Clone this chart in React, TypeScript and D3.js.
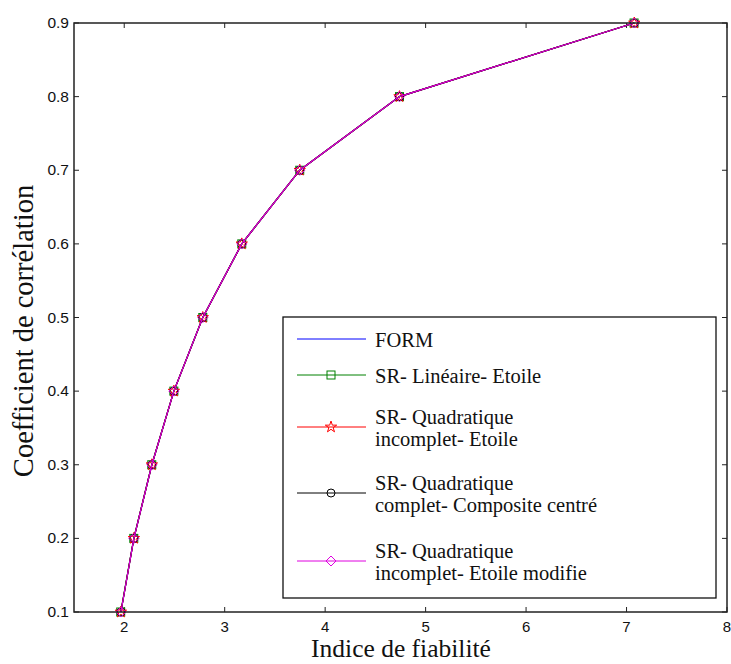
import React from "react";
import * as d3 from "d3";

const corr = [0.1, 0.2, 0.3, 0.4, 0.5, 0.6, 0.7, 0.8, 0.9];
const betaFORM = [1.967, 2.096, 2.275, 2.494, 2.782, 3.17, 3.747, 4.74, 7.077];
const betaLin = [1.965, 2.095, 2.274, 2.494, 2.782, 3.17, 3.747, 4.74, 7.075];
const betaQuadInc = [1.967, 2.096, 2.275, 2.494, 2.782, 3.17, 3.747, 4.74, 7.077];
const betaQuadComp = [1.967, 2.096, 2.275, 2.494, 2.782, 3.17, 3.747, 4.74, 7.077];
const betaQuadMod = [1.967, 2.096, 2.275, 2.494, 2.782, 3.17, 3.747, 4.74, 7.077];
const xTicks = [2, 3, 4, 5, 6, 7, 8];
const yTicks = [0.1, 0.2, 0.3, 0.4, 0.5, 0.6, 0.7, 0.8, 0.9];

const series = [
  { name: ["FORM"], color: "#0000ff", marker: "none", xs: betaFORM },
  { name: ["SR- Linéaire- Etoile"], color: "#008000", marker: "square", xs: betaLin },
  { name: ["SR- Quadratique", "incomplet- Etoile"], color: "#ff0000", marker: "star", xs: betaQuadInc },
  { name: ["SR- Quadratique", "complet- Composite centré"], color: "#000000", marker: "circle", xs: betaQuadComp },
  { name: ["SR- Quadratique", "incomplet- Etoile modifie"], color: "#e000e0", marker: "diamond", xs: betaQuadMod },
];

const SANS = "'Liberation Sans', Arial, sans-serif";
const SERIF = "'Liberation Serif', 'Times New Roman', serif";

function Marker({ type, x, y, color }: { type: string; x: number; y: number; color: string }) {
  if (type === "square") return <rect x={x - 4} y={y - 4} width={8} height={8} fill="none" stroke={color} strokeWidth={1} />;
  if (type === "circle") return <circle cx={x} cy={y} r={4} fill="none" stroke={color} strokeWidth={1} />;
  if (type === "diamond") return <path d={`M${x},${y - 5}L${x + 5},${y}L${x},${y + 5}L${x - 5},${y}Z`} fill="none" stroke={color} strokeWidth={1} />;
  if (type === "star") {
    const p = d3.symbol(d3.symbolStar, 40)() as string;
    return <path d={p} transform={`translate(${x},${y})`} fill="none" stroke={color} strokeWidth={1} />;
  }
  return null;
}

export default function App() {
  const W = 731, H = 664;
  const x = d3.scaleLinear().domain([1.5, 8]).range([74, 727]);
  const y = d3.scaleLinear().domain([0.1, 0.9]).range([612, 23]);
  const line = d3.line<[number, number]>().x((d) => x(d[0])).y((d) => y(d[1]));
  const tickLen = 5;
  const legX = 283, legY = 317, legW = 433, legH = 281;
  const legRows = [339, 375, 427, 493, 561];
  return (
    <svg width={W} height={H} style={{ position: "absolute", left: 0, top: 0, background: "#fff" }}>
      <rect x={0} y={0} width={W} height={H} fill="#fff" />
      {xTicks.map((t) => (
        <g key={"x" + t}>
          <line x1={x(t)} x2={x(t)} y1={612} y2={612 - tickLen} stroke="#222" />
          <line x1={x(t)} x2={x(t)} y1={23} y2={23 + tickLen} stroke="#222" />
          <text x={x(t)} y={632} textAnchor="middle" fontFamily={SANS} fontSize={15} fill="#111">{t}</text>
        </g>
      ))}
      {yTicks.map((t) => (
        <g key={"y" + t}>
          <line x1={74} x2={74 + tickLen} y1={y(t)} y2={y(t)} stroke="#222" />
          <line x1={727} x2={727 - tickLen} y1={y(t)} y2={y(t)} stroke="#222" />
          <text x={69} y={y(t) + 5} textAnchor="end" fontFamily={SANS} fontSize={15.5} fill="#111">{t.toFixed(1)}</text>
        </g>
      ))}
      {series.map((s, i) => (
        <g key={"s" + i}>
          <path d={line(s.xs.map((v, j) => [v, corr[j]]) as [number, number][]) as string} fill="none" stroke={s.color} strokeWidth={1.2} />
          {s.xs.map((v, j) => (
            <Marker key={j} type={s.marker} x={x(v)} y={y(corr[j])} color={s.color} />
          ))}
        </g>
      ))}
      <rect x={74} y={23} width={653} height={589} fill="none" stroke="#222" strokeWidth={1.5} />
      <rect x={legX} y={legY} width={legW} height={legH} fill="#fff" stroke="#111" strokeWidth={1.3} />
      {series.map((s, i) => {
        const ly = legRows[i];
        const two = s.name.length > 1;
        return (
          <g key={"l" + i}>
            <line x1={297} x2={366} y1={ly} y2={ly} stroke={s.color} strokeWidth={1} />
            <Marker type={s.marker} x={331} y={ly} color={s.color} />
            {s.name.map((n, k) => (
              <text key={k} x={375} y={two ? ly - 3 + k * 22 : ly + 8} fontFamily={SERIF} fontSize={20.5} fill="#111">{n}</text>
            ))}
          </g>
        );
      })}
      <text x={401} y={657} textAnchor="middle" fontFamily={SERIF} fontSize={25.5} fill="#111">Indice de fiabilité</text>
      <text transform={`translate(33,331) rotate(-90)`} textAnchor="middle" fontFamily={SERIF} fontSize={28.5} fill="#111">Coefficient de corrélation</text>
    </svg>
  );
}
